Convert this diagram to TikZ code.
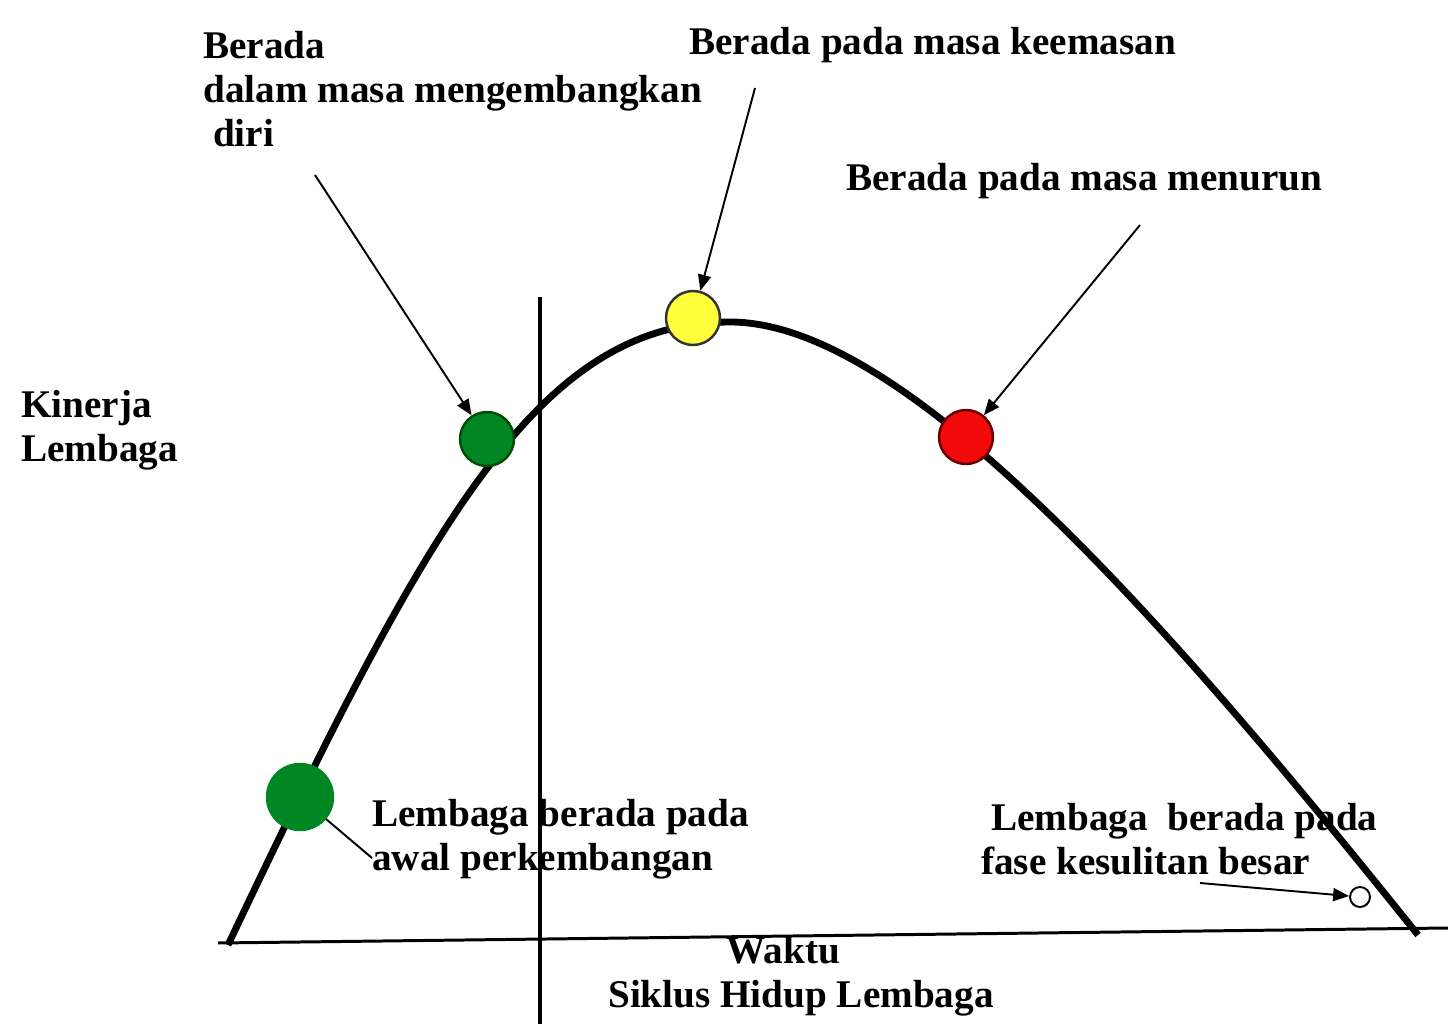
\documentclass[tikz,border=0pt]{standalone}
\usepackage{fontspec}
\setmainfont{Liberation Serif}
\usetikzlibrary{arrows.meta}

\definecolor{stagegreen}{RGB}{0,135,35}
\definecolor{stageyellow}{RGB}{255,255,60}
\definecolor{stagered}{RGB}{240,10,10}

\tikzset{
  phase text/.style={font=\bfseries\fontsize{22.3}{25}\selectfont, align=left, anchor=west, inner sep=0pt},
  stagedot/.style={circle, draw=black!70!green, line width=1.4pt, minimum size=#1, inner sep=0pt},
  pointer/.style={-{Triangle[length=3.2mm,width=2.6mm]}, line width=1.1pt},
}

\begin{document}
\begin{tikzpicture}[x=0.02cm, y=-0.02cm]
        \useasboundingbox (0,0) rectangle (1448,1024);

        % Labels
        \node[phase text] (grow) at (203,89) {Berada\\dalam masa mengembangkan\\ \ diri};
        \node[phase text] (gold) at (689,45) {Berada pada masa keemasan};
        \node[phase text] (down) at (846,181) {Berada pada masa menurun};
        \node[phase text] (perf) at (21,430) {Kinerja\\Lembaga};
        \node[phase text] (start) at (372,839) {Lembaga berada pada\\awal perkembangan};
        \node[phase text] (crisis) at (981,839) {\ Lembaga\ \ berada pada\\fase kesulitan besar};
        \node[phase text, anchor=center, align=center] (time) at (801,976) {\hspace*{-20pt}Waktu\\Siklus Hidup Lembaga};

        % Axes
        \coordinate (xa) at (218,943);
        \coordinate (xb) at (1448,928);
        \coordinate (ya) at (540,297);
        \coordinate (yb) at (540,1024);
        \draw[line width=1.7pt] (xa) -- (xb);
        \draw[line width=2.8pt] (ya) -- (yb);

        % Life cycle curve
        \coordinate (birth) at (228,945);
        \coordinate (peak) at (730,322);
        \coordinate (end) at (1418,935);
        \draw[line width=3.9pt] (birth) .. controls (432,515) and (540,322) .. (peak)
              .. controls (900,322) and (1150,600) .. (end);

        % Stage markers
        \node[stagedot=1.32cm, fill=stagegreen, draw=stagegreen] (s1) at (300,797) {};
        \node[stagedot=1.08cm, fill=stagegreen] (s2) at (487,439) {};
        \node[stagedot=1.08cm, fill=stageyellow, draw=black!80] (s3) at (693,318) {};
        \node[stagedot=1.08cm, fill=stagered, draw=black!60!red] (s4) at (966,437) {};
        \node[stagedot=0.4cm, fill=white, draw=black, line width=1.1pt] (s5) at (1360,897) {};

        % Pointers
        \coordinate (p2) at (315,175);
        \coordinate (p3) at (755,88);
        \coordinate (p4) at (1140,225);
        \coordinate (p5) at (1200,883);
        \draw[pointer] (p2) -- (s2);
        \draw[pointer] (p3) -- (s3);
        \draw[pointer] (p4) -- (s4);
        \draw[pointer] (p5) -- (s5);
        \draw[line width=1.1pt] (s1) -- (start.west |- 0,858);
\end{tikzpicture}
\end{document}
